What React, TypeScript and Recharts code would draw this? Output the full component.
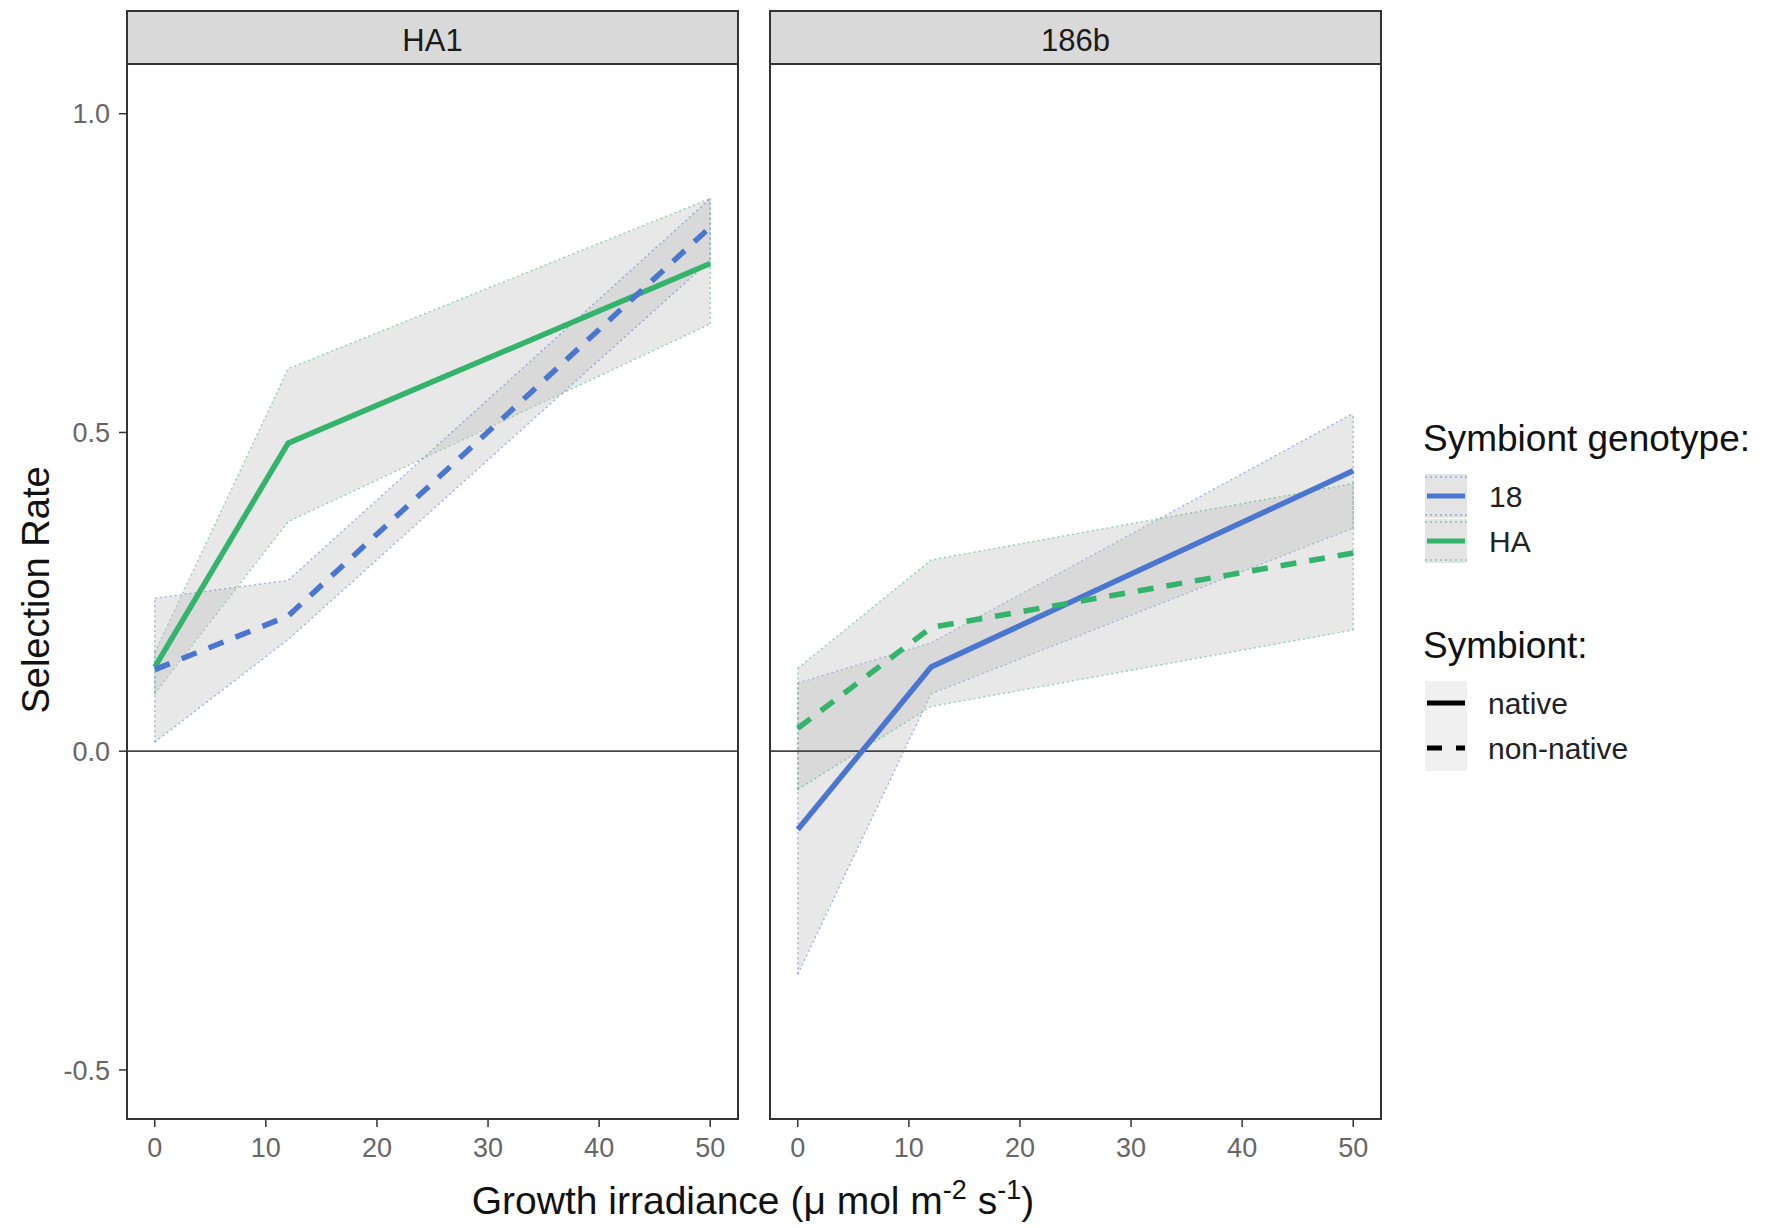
import {
  Area,
  ComposedChart,
  Line,
  ReferenceLine,
  XAxis,
  YAxis,
} from "recharts";

// growth irradiance levels (µmol m-2 s-1)
const irradiance = [0, 12, 50];

// host HA1: native symbiont = HA (green), non-native = 18 (blue)
const ha1Native = [0.132, 0.483, 0.765];
const ha1NativeLow = [0.09, 0.36, 0.67];
const ha1NativeHigh = [0.155, 0.6, 0.867];
const ha1NonNative = [0.128, 0.212, 0.822];
const ha1NonNativeLow = [0.014, 0.175, 0.77];
const ha1NonNativeHigh = [0.24, 0.268, 0.867];

// host 186b: native symbiont = 18 (blue), non-native = HA (green)
const b186Native = [-0.123, 0.132, 0.44];
const b186NativeLow = [-0.35, 0.09, 0.35];
const b186NativeHigh = [0.107, 0.17, 0.53];
const b186NonNative = [0.036, 0.194, 0.311];
const b186NonNativeLow = [-0.06, 0.07, 0.19];
const b186NonNativeHigh = [0.13, 0.3, 0.42];

const xTicks = [0, 10, 20, 30, 40, 50];
const yTicks = [-0.5, 0, 0.5, 1.0];

const BLUE = "#4a76d0";
const GREEN = "#33b36b";
const FONT = "'Liberation Sans', Arial, sans-serif";
const DASH = "16 13";

const PLOT_TOP = 64;
const PLOT_H = 1055;
const PLOT_W = 611;
const Y_AXIS_W = 127;
const X_AXIS_H = 60;

interface Row {
  x: number;
  n: number;
  nLo: number;
  nHi: number;
  nn: number;
  nnLo: number;
  nnHi: number;
}

function buildRows(
  n: number[],
  nLo: number[],
  nHi: number[],
  nn: number[],
  nnLo: number[],
  nnHi: number[],
): Row[] {
  return irradiance.map((x, i) => ({
    x,
    n: n[i],
    nLo: nLo[i],
    nHi: nHi[i],
    nn: nn[i],
    nnLo: nnLo[i],
    nnHi: nnHi[i],
  }));
}

interface PanelProps {
  left: number;
  showY: boolean;
  rows: Row[];
  nativeColor: string;
  nonNativeColor: string;
}

function Panel({ left, showY, rows, nativeColor, nonNativeColor }: PanelProps) {
  const yw = showY ? Y_AXIS_W : 0;
  const first = rows[0];
  const last = rows[rows.length - 1];
  const ribbonProps = {
    type: "linear" as const,
    fill: "#c0c0c0",
    fillOpacity: 0.36,
    strokeWidth: 1.3,
    strokeOpacity: 0.55,
    strokeDasharray: "2 3",
    isAnimationActive: false,
    dot: false,
    activeDot: false,
  };
  // ribbon ends (ggplot draws the full outline)
  const edge = (x: number, lo: number, hi: number, color: string, key: string) => (
    <ReferenceLine
      key={key}
      segment={[
        { x, y: lo },
        { x, y: hi },
      ]}
      stroke={color}
      strokeOpacity={0.55}
      strokeWidth={1.3}
      strokeDasharray="2 3"
    />
  );
  return (
    <div style={{ position: "absolute", left: left - yw, top: PLOT_TOP }}>
      <ComposedChart
        width={PLOT_W + yw}
        height={PLOT_H + X_AXIS_H}
        data={rows}
        margin={{ top: 0, right: 0, bottom: 0, left: 0 }}
      >
        <XAxis
          dataKey="x"
          type="number"
          domain={[-2.5, 52.5]}
          ticks={xTicks}
          allowDataOverflow
          height={X_AXIS_H}
          tickSize={8}
          tickMargin={11}
          axisLine={{ stroke: "#333", strokeWidth: 2 }}
          tickLine={{ stroke: "#333", strokeWidth: 1.5 }}
          tick={{ fontSize: 27, fill: "#666", fontFamily: FONT }}
        />
        <YAxis
          type="number"
          domain={[-0.577, 1.078]}
          ticks={yTicks}
          allowDataOverflow
          hide={!showY}
          width={Y_AXIS_W}
          tickSize={8}
          tickMargin={9}
          tickFormatter={(v: number) => v.toFixed(1)}
          axisLine={{ stroke: "#333", strokeWidth: 2 }}
          tickLine={{ stroke: "#333", strokeWidth: 1.5 }}
          tick={{ fontSize: 27, fill: "#666", fontFamily: FONT }}
        />
        <Area
          {...ribbonProps}
          dataKey={(d: Row) => [d.nLo, d.nHi]}
          stroke={nativeColor}
        />
        <Area
          {...ribbonProps}
          dataKey={(d: Row) => [d.nnLo, d.nnHi]}
          stroke={nonNativeColor}
        />
        {edge(first.x, first.nLo, first.nHi, nativeColor, "e1")}
        {edge(last.x, last.nLo, last.nHi, nativeColor, "e2")}
        {edge(first.x, first.nnLo, first.nnHi, nonNativeColor, "e3")}
        {edge(last.x, last.nnLo, last.nnHi, nonNativeColor, "e4")}
        <ReferenceLine y={0} stroke="#444" strokeWidth={1.8} />
        <Line
          type="linear"
          dataKey="n"
          stroke={nativeColor}
          strokeWidth={5.5}
          dot={false}
          activeDot={false}
          isAnimationActive={false}
        />
        <Line
          type="linear"
          dataKey="nn"
          stroke={nonNativeColor}
          strokeWidth={5.5}
          strokeDasharray={DASH}
          dot={false}
          activeDot={false}
          isAnimationActive={false}
        />
      </ComposedChart>
    </div>
  );
}

const ha1Rows = buildRows(
  ha1Native,
  ha1NativeLow,
  ha1NativeHigh,
  ha1NonNative,
  ha1NonNativeLow,
  ha1NonNativeHigh,
);
const b186Rows = buildRows(
  b186Native,
  b186NativeLow,
  b186NativeHigh,
  b186NonNative,
  b186NonNativeLow,
  b186NonNativeHigh,
);

const panels = [
  { label: "HA1", left: 127 },
  { label: "186b", left: 770 },
];

export default function App() {
  return (
    <div
      style={{
        position: "absolute",
        left: 0,
        top: 0,
        width: 1778,
        height: 1228,
        background: "#fff",
        fontFamily: FONT,
      }}
    >
      <Panel left={127} showY rows={ha1Rows} nativeColor={GREEN} nonNativeColor={BLUE} />
      <Panel left={770} showY={false} rows={b186Rows} nativeColor={BLUE} nonNativeColor={GREEN} />
      <svg
        width={1778}
        height={1228}
        style={{ position: "absolute", left: 0, top: 0, pointerEvents: "none" }}
        fontFamily={FONT}
      >
        {panels.map((p) => (
          <g key={p.label}>
            <rect
              x={p.left}
              y={PLOT_TOP}
              width={PLOT_W}
              height={PLOT_H}
              fill="none"
              stroke="#333"
              strokeWidth={2}
            />
            <rect
              x={p.left}
              y={11}
              width={PLOT_W}
              height={PLOT_TOP - 11}
              fill="#d9d9d9"
              stroke="#333"
              strokeWidth={2}
            />
            <text
              x={p.left + PLOT_W / 2}
              y={51}
              textAnchor="middle"
              fontSize={31}
              fill="#1a1a1a"
            >
              {p.label}
            </text>
          </g>
        ))}

        <text
          transform="translate(49 590) rotate(-90)"
          textAnchor="middle"
          fontSize={38}
          fill="#111"
        >
          Selection Rate
        </text>

        <text x={753} y={1214} textAnchor="middle" fontSize={39} fill="#111">
          Growth irradiance (μ mol m
          <tspan dy={-15} fontSize={27}>-2</tspan>
          <tspan dy={15}> s</tspan>
          <tspan dy={-15} fontSize={27}>-1</tspan>
          <tspan dy={15}>)</tspan>
        </text>

        {/* legend: genotype */}
        <text x={1423} y={451} fontSize={37} fill="#111">
          Symbiont genotype:
        </text>
        {[
          { label: "18", color: BLUE, y: 474 },
          { label: "HA", color: GREEN, y: 519 },
        ].map((k) => (
          <g key={k.label}>
            <rect x={1425} y={k.y} width={42} height={44} fill="#e4e4e4" />
            <line
              x1={1425}
              x2={1467}
              y1={k.y + 3}
              y2={k.y + 3}
              stroke={k.color}
              strokeOpacity={0.55}
              strokeWidth={1.3}
              strokeDasharray="2 3"
            />
            <line
              x1={1425}
              x2={1467}
              y1={k.y + 41}
              y2={k.y + 41}
              stroke={k.color}
              strokeOpacity={0.55}
              strokeWidth={1.3}
              strokeDasharray="2 3"
            />
            <line
              x1={1427}
              x2={1465}
              y1={k.y + 22}
              y2={k.y + 22}
              stroke={k.color}
              strokeWidth={5}
            />
            <text x={1489} y={k.y + 33} fontSize={30} fill="#222">
              {k.label}
            </text>
          </g>
        ))}

        {/* legend: native / non-native */}
        <text x={1423} y={658} fontSize={37} fill="#111">
          Symbiont:
        </text>
        {[
          { label: "native", dash: undefined, y: 681 },
          { label: "non-native", dash: "15 14", y: 726 },
        ].map((k) => (
          <g key={k.label}>
            <rect x={1425} y={k.y} width={42} height={45} fill="#f0f0f0" />
            <line
              x1={1427}
              x2={1465}
              y1={k.y + 22}
              y2={k.y + 22}
              stroke="#000"
              strokeWidth={5}
              strokeDasharray={k.dash}
            />
            <text x={1488} y={k.y + 33} fontSize={30} fill="#222">
              {k.label}
            </text>
          </g>
        ))}
      </svg>
    </div>
  );
}
